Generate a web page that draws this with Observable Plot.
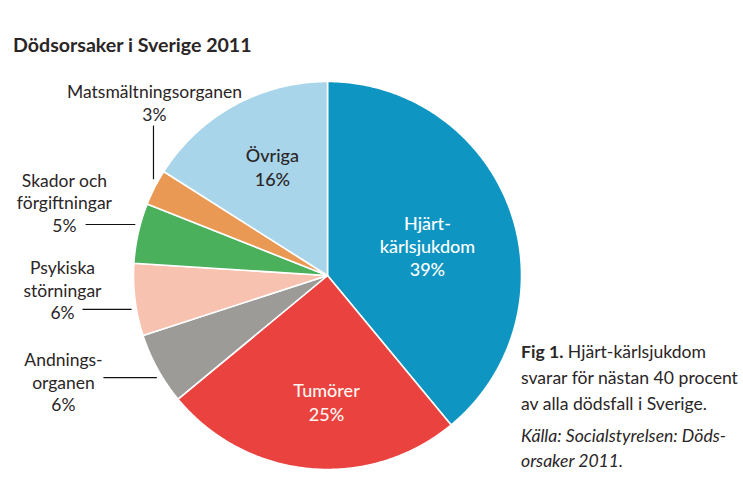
<!DOCTYPE html>
<html>
<head>
<meta charset="utf-8">
<script src="https://cdn.jsdelivr.net/npm/d3@7"></script>
<script src="https://cdn.jsdelivr.net/npm/@observablehq/plot@0.6"></script>
<style>
  html, body { margin: 0; padding: 0; background: #fff; }
  #wrap { position: relative; width: 743px; height: 502px; font-family: Lato, "Open Sans", sans-serif; color: #2a2526; }
  #chart { position: absolute; left: 0; top: 0; }
  #title { position: absolute; left: 13px; top: 33px; font-weight: 700; font-size: 19.6px; line-height: 24px; white-space: nowrap; }
  #caption { position: absolute; left: 521px; top: 339px; width: 222px; font-size: 17.6px; line-height: 26px; white-space: nowrap; }
  #source { font-style: italic; font-size: 17.6px; line-height: 25px; margin-top: 6px; }
</style>
</head>
<body>
<div id="wrap">
  <div id="chart"></div>
  <div id="title"></div>
  <div id="caption"></div>
</div>
<script>
// ---- data ----
const title = "Dödsorsaker i Sverige 2011";
const causes = ["Hjärt-kärlsjukdom", "Tumörer", "Andningsorganen", "Psykiska störningar", "Skador och förgiftningar", "Matsmältningsorganen", "Övriga"];
const shares = [39, 25, 6, 6, 5, 3, 16];
const labelTexts = ["Hjärt-\nkärlsjukdom", "Tumörer", "Andnings-\norganen", "Psykiska\nstörningar", "Skador och\nförgiftningar", "Matsmältningsorganen", "Övriga"];
const captionBold = "Fig 1.";
const captionLines = [" Hjärt-kärlsjukdom", "svarar för nästan 40 procent", "av alla dödsfall i Sverige."];
const sourceLines = ["Källa: Socialstyrelsen: Döds-", "orsaker 2011."];

// ---- styles / layout (unit-circle coordinates) ----
const colors = ["#0f95c2", "#ea423f", "#9c9b98", "#f8c2b0", "#4bb05c", "#e99953", "#a9d5ea"];
const labelColors = ["#ffffff", "#fff6f2", "#2a2526", "#2a2526", "#2a2526", "#2a2526", "#2a2526"];
const labelPos = [[0.515, 0.155], [-0.005, -0.649], [-1.361, -0.546], [-1.366, -0.072], [-1.356, 0.379], [-0.892, 0.894], [-0.284, 0.562]];
// leader lines: [cause index, start x, start y, direction]
const leaders = [[4, -1.247, 0.263, "h"], [3, -1.263, -0.175, "h"], [2, -1.155, -0.526, "h"], [5, -0.897, 0.773, "v"]];
const cx = 327, cy = 275, R = 194, W = 743, H = 502;

// ---- build slices ----
const pie = d3.pie().sort(null).startAngle(0).endAngle(2 * Math.PI)(shares);
const slicePts = [];
pie.forEach((p, i) => {
  slicePts.push({cause: causes[i], x: 0, y: 0});
  const n = Math.max(2, Math.ceil((p.endAngle - p.startAngle) / (Math.PI / 360)));
  for (let k = 0; k <= n; k++) {
    const a = p.startAngle + (p.endAngle - p.startAngle) * k / n;
    slicePts.push({cause: causes[i], x: Math.sin(a), y: Math.cos(a)});
  }
  slicePts.push({cause: causes[i], x: 0, y: 0});
});

const labels = causes.map((c, i) => ({cause: c, text: labelTexts[i] + "\n" + shares[i] + "%", x: labelPos[i][0], y: labelPos[i][1], color: labelColors[i]}));
const insideLabels = labels.filter((d, i) => [0, 1, 6].includes(i));
const outsideLabels = labels.filter((d, i) => ![0, 1, 6].includes(i));

const gapR = 1.025;
const leaderSegs = leaders.map(([i, x1, y1, dir]) => {
  if (dir === "h") return {x1, y1, x2: -Math.sqrt(gapR * gapR - y1 * y1), y2: y1};
  return {x1, y1, x2: x1, y2: Math.sqrt(gapR * gapR - x1 * x1)};
});

const chart = Plot.plot({
  width: W, height: H, margin: 0,
  x: {domain: [-cx / R, (W - cx) / R], axis: null},
  y: {domain: [-(H - cy) / R, cy / R], axis: null},
  color: {domain: causes, range: colors},
  style: {fontFamily: "Lato, 'Open Sans', sans-serif", background: "transparent"},
  marks: [
    Plot.line(slicePts, {x: "x", y: "y", z: "cause", fill: "cause", stroke: "white", strokeWidth: 1.6, curve: "linear", strokeLinejoin: "round"}),
    Plot.link(leaderSegs, {x1: "x1", y1: "y1", x2: "x2", y2: "y2", stroke: "#111", strokeWidth: 1.2}),
    Plot.text(outsideLabels, {x: "x", y: "y", text: "text", fill: "color", fontSize: 17.5, lineHeight: 1.3, textAnchor: "middle"}),
    Plot.text(insideLabels, {x: "x", y: "y", text: "text", fill: "color", fontSize: 18, fontWeight: 500, lineHeight: 1.3, textAnchor: "middle"})
  ]
});
document.getElementById("chart").appendChild(chart);

document.getElementById("title").textContent = title;
const cap = document.getElementById("caption");
const b = document.createElement("b");
b.textContent = captionBold;
cap.appendChild(b);
captionLines.forEach((t, i) => {
  if (i > 0) cap.appendChild(document.createElement("br"));
  cap.appendChild(document.createTextNode(t));
});
const src = document.createElement("div");
src.id = "source";
sourceLines.forEach((t, i) => {
  if (i > 0) src.appendChild(document.createElement("br"));
  src.appendChild(document.createTextNode(t));
});
cap.appendChild(src);
</script>
</body>
</html>
